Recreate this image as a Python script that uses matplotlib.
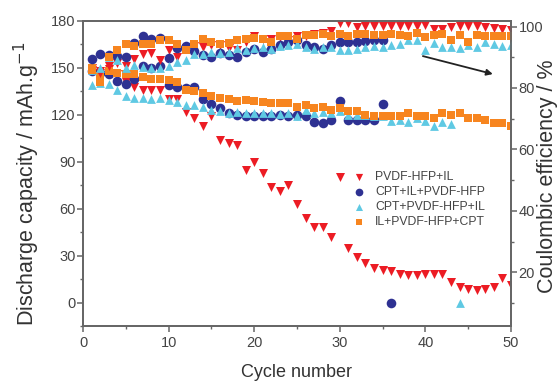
import matplotlib
matplotlib.use("Agg")
import matplotlib.pyplot as plt
import numpy as np

plt.rcParams['font.family'] = ['Liberation Sans', 'DejaVu Sans']

cycles = list(range(1, 51))

# discharge capacity, mAh/g
cap_pvdf_il = [150, 148, 149, 146, 141, 138, 136, 136, 136, 130,
               130, 122, 118, 113, 119, 104, 102, 101, 85, 90,
               83, 74, 71, 75, 63, 54, 48, 48, 42, 80,
               35, 29, 25, 22, 21, 20, 18.5, 17.5, 17.5, 18,
               18, 18, 13, 10, 8.5, 8, 8.5, 10, 16, 11.5]
cap_cpt_il = [148, 147, 146, 141.5, 139.5, 143, 151, 150, 151, 139,
              138, 137, 137.5, 130, 127, 124.5, 121, 120, 119.5, 119.5,
              119.5, 119.5, 120, 119, 120, 119.5, 115.5, 114.5, 117, 129,
              117, 117, 116.5, 116.5, 127, 0]
cap_cpt_pvdf = [139, 140.5, 139.5, 136, 132, 131, 131, 130, 131, 129.4,
                128.5, 126, 126, 125, 123.4, 122.5, 121, 122, 121, 121,
                121.5, 121, 120.5, 121.5, 119, 123.4, 121, 122, 121, 122.3,
                120, 120, 120, 119, 119, 116, 117, 115.5, 118, 116,
                113, 115.5, 114, 0]
cap_il_cpt = [150, 145, 148, 147, 146, 146, 144, 143, 143, 142,
              141, 136, 135, 134, 132, 131, 130, 129, 129.5, 129,
              128, 127.5, 127.5, 127.5, 125, 126, 124.5, 125, 123, 124.5,
              122.3, 122.3, 120, 119.5, 119, 119, 119.5, 121, 119, 119.5,
              118, 121, 120, 121, 118, 118, 117, 115, 115, 112.7]

# coulombic efficiency, %
ce_pvdf_il = [86, 85, 87, 88, 87, 89.3, 91, 91.5, 89, 92.2,
              90, 93, 93.5, 93.2, 94, 94, 93, 92.5, 95, 96.8,
              96, 96, 96.5, 95.5, 97, 97, 97.7, 98, 98.5, 101.3,
              101, 99.8, 100.3, 100.3, 100.3, 100.3, 100.3, 100.3, 100.3, 100.5,
              99.2, 99.2, 100, 100.3, 100.3, 100.3, 99.8, 99.5, 99.2, 98.8]
ce_cpt_il = [89.3, 91.2, 90.6, 90.3, 90, 94.8, 96.8, 95.8, 96.4, 89.8,
             93, 93.5, 92, 90.6, 90, 91.5, 90.6, 90, 91.7, 92.7,
             91.7, 92.7, 94, 95, 95.5, 94, 93.3, 92.8, 94, 95,
             95, 95, 95.2, 95.5, 95.5]
ce_cpt_pvdf = [85.7, 86.4, 90, 89, 86.4, 87.5, 86.8, 86.4, 86.4, 87,
               88.4, 89, 91.2, 91.2, 91.7, 91.4, 91.7, 93, 92.4, 93,
               93.3, 92.8, 93.5, 94, 94.4, 93.3, 92.8, 93.3, 93.3, 92.4,
               92.4, 92.8, 93.3, 93.5, 93.3, 93.9, 94.4, 95.5, 95.6, 92.4,
               94.6, 93.3, 93.3, 93, 93.9, 93.3, 94.9, 94.4, 93.5, 93.9]
ce_il_cpt = [86, 82, 90, 92.4, 94.4, 93.8, 94.4, 94.4, 95.7, 95.5,
             94.4, 92.2, 94.4, 96, 95.1, 94.4, 94.6, 95.7, 96, 96.3,
             96, 95.1, 96.8, 96.8, 96, 97.1, 97.1, 97.6, 96.8, 97.6,
             96.8, 97.6, 97.6, 97.3, 97.3, 97.6, 97.3, 97, 98, 96.5,
             97.3, 97.6, 95.5, 97.3, 95, 97.3, 97, 97, 97, 97]

labels = ['PVDF-HFP+IL', 'CPT+IL+PVDF-HFP', 'CPT+PVDF-HFP+IL', 'IL+PVDF-HFP+CPT']
colors = ['#ec1c24', '#2e3192', '#5fc9e3', '#f7851f']
markers = ['v', 'o', '^', 's']
sizes = [42, 48, 40, 30]

caps = [cap_pvdf_il, cap_cpt_il, cap_cpt_pvdf, cap_il_cpt]
ces = [ce_pvdf_il, ce_cpt_il, ce_cpt_pvdf, ce_il_cpt]

fig = plt.figure(figsize=(5.59, 3.86), dpi=100)
ax = fig.add_axes([0.1485, 0.1554, 0.7655, 0.7902])
ax2 = ax.twinx()

for cap, ce, lab, c, m, s in zip(caps, ces, labels, colors, markers, sizes):
    ax.scatter(cycles[:len(cap)], cap, marker=m, s=s, color=c, lw=0, label=lab)
    ax2.scatter(cycles[:len(ce)], ce, marker=m, s=s, color=c, lw=0)

ax.set_xlim(0, 50)
ax.set_ylim(-15, 180)
ax2.set_ylim(2.5, 101.8)

ax.set_xticks([0, 10, 20, 30, 40, 50])
ax.set_xticks([5, 15, 25, 35, 45], minor=True)
ax.set_yticks([0, 30, 60, 90, 120, 150, 180])
ax.set_yticks([-15, 15, 45, 75, 105, 135, 165], minor=True)
ax2.set_yticks([20, 40, 60, 80, 100])
ax2.set_yticks([10, 30, 50, 70, 90], minor=True)

tick_col = '#444444'
spine_col = '#666666'
for a in (ax, ax2):
    for sp in a.spines.values():
        sp.set_color(spine_col)
        sp.set_linewidth(1.3)
    a.tick_params(which='major', length=4, width=1.1, color=spine_col,
                  labelsize=10.5, labelcolor=tick_col, pad=1.5)
    a.tick_params(which='minor', length=2.5, width=1.0, color=spine_col)

ax.tick_params(axis='x', which='major', pad=3)

ax.set_xlabel('Cycle number', fontsize=13, color='#333333')
ax.xaxis.set_label_coords(0.5, -0.125)
ax.set_ylabel('Discharge capacity / mAh.g$^{-1}$', fontsize=15.5, color='#333333')
ax.yaxis.set_label_coords(-0.095, 0.467)
ax2.set_ylabel('Coulombic efficiency / %', fontsize=15.5, color='#333333',
               rotation=90)
ax2.yaxis.set_label_coords(1.062, 0.49)

ax2.annotate('', xy=(48.2, 84.3), xytext=(39.4, 90.6),
             arrowprops=dict(arrowstyle='-|>', color='#222222', lw=1.3,
                             mutation_scale=9))

ax.legend(loc='upper left', bbox_to_anchor=(0.631, 0.508), frameon=False,
          fontsize=8.8, handlelength=1.0, handletextpad=0.8, labelspacing=0.25,
          borderpad=0, labelcolor='#444444', scatterpoints=1, borderaxespad=0,
          markerscale=0.8)

fig.savefig('out.png', dpi=100)
